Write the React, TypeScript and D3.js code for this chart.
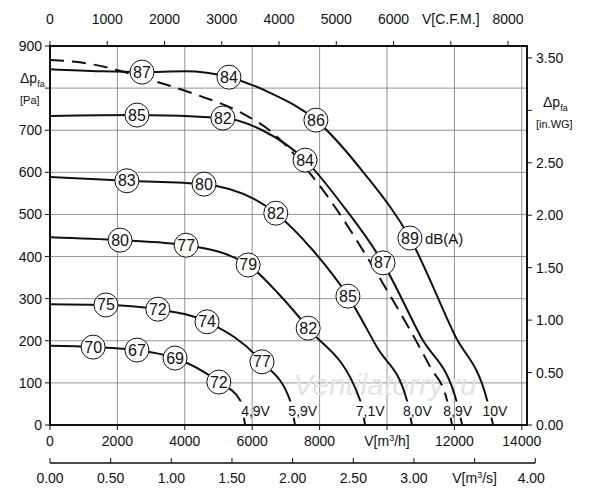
import * as d3 from 'd3';

// flow in m3/h, pressure in Pa
const curve49: [number, number][] = [[0, 188], [1280, 185], [2580, 178], [3710, 159], [5010, 102], [5640, 59], [5790, 0]];
const curve59: [number, number][] = [[0, 287], [1660, 285], [3200, 275], [4660, 245], [6290, 150], [7120, 59], [7270, 0]];
const curve71: [number, number][] = [[0, 446], [2080, 439], [4040, 427], [5880, 380], [6800, 310], [7660, 230], [9200, 59], [9350, 0]];
const curve80: [number, number][] = [[0, 589], [2280, 580], [4570, 572], [6700, 503], [7800, 415], [8840, 306], [9700, 185], [10590, 59], [10740, 0]];
const curve89: [number, number][] = [[0, 734], [2580, 736], [5130, 729], [6300, 700], [7570, 629], [8700, 520], [9880, 385], [11000, 210], [12080, 52], [12230, 0]];
const curve10: [number, number][] = [[0, 845], [1500, 840], [2730, 838], [4000, 840], [5310, 826], [6500, 790], [7890, 724], [9300, 600], [10680, 444], [12000, 215], [12970, 59], [13150, 0]];
const dashed: [number, number][] = [[0, 867], [980, 860], [3175, 815], [4360, 784], [5640, 743], [6620, 693], [7800, 589], [10000, 320], [11280, 138], [11780, 59], [11930, 0]];
const solidCurves = [curve49, curve59, curve71, curve80, curve89, curve10];

const voltLabels: [number, string][] = [[6100, '4,9V'], [7500, '5,9V'], [9500, '7,1V'], [10900, '8,0V'], [12100, '8,9V'], [13200, '10V']];

// [flow, pressure, dB]
const dbLabels: [number, number, string][] = [
  [1280, 185, '70'], [2580, 178, '67'], [3710, 159, '69'], [5010, 102, '72'],
  [1660, 285, '75'], [3200, 275, '72'], [4660, 245, '74'], [6290, 150, '77'],
  [2080, 439, '80'], [4040, 427, '77'], [5880, 380, '79'], [7660, 230, '82'],
  [2280, 580, '83'], [4570, 572, '80'], [6700, 503, '82'], [8840, 306, '85'],
  [2580, 736, '85'], [5130, 729, '82'], [7570, 629, '84'], [9880, 385, '87'],
  [2730, 838, '87'], [5310, 826, '84'], [7890, 724, '86'], [10680, 444, '89'],
];

const flowTicks = [0, 2000, 4000, 6000, 8000, 10000, 12000, 14000];
const paTicks = [0, 100, 200, 300, 400, 500, 600, 700, 800, 900];
const cfmTicks = [0, 1000, 2000, 3000, 4000, 5000, 6000, 7000, 8000];
const inwgTicks = [0, 0.5, 1, 1.5, 2, 2.5, 3, 3.5];
const m3sTicks = [0, 0.5, 1, 1.5, 2, 2.5, 3, 3.5, 4];

const font = 'Liberation Sans, Arial, sans-serif';

export default function App() {
  const L = 50, R = 527, T = 46, B = 425;
  const x = d3.scaleLinear().domain([0, 14000]).range([L, L + 14000 * 0.0337]);
  const y = d3.scaleLinear().domain([0, 900]).range([B, B - 900 * 0.4211]);
  const xCfm = (v: number) => x(v * 1.699);
  const yIn = (v: number) => y(v * 249.09);
  const xM3s = (v: number) => x(v * 3600);
  const line = d3.line<[number, number]>().x((d) => x(d[0])).y((d) => y(d[1])).curve(d3.curveMonotoneX);
  const bottom2 = 463;

  return (
    <svg width={600} height={500} style={{ position: 'absolute', left: 0, top: 0 }} fontFamily={font}>
      <rect width={600} height={500} fill='white' />
      <defs>
        <clipPath id='gap'>
          <rect x={L} y={T} width={R - L} height={y(56) - T} />
          <rect x={L} y={y(17)} width={R - L} height={B - y(17)} />
        </clipPath>
      </defs>
      {/* grid */}
      {flowTicks.slice(1).map((t) => (
        <line key={'vx' + t} x1={x(t)} x2={x(t)} y1={T} y2={B} stroke='#777' strokeWidth={0.8} />
      ))}
      {paTicks.slice(1).map((t) => (
        <line key={'hy' + t} x1={L} x2={R} y1={y(t)} y2={y(t)} stroke='#777' strokeWidth={0.8} />
      ))}
      <text x={385} y={395} fontSize={30} fontStyle='italic' fill='#e4e4e4' textAnchor='middle'>Ventilatorry.ru</text>
      {/* frame */}
      <rect x={L} y={T} width={R - L} height={B - T} fill='none' stroke='#111' strokeWidth={2} />

      {/* curves */}
      <g clipPath='url(#gap)' fill='none' stroke='#111' strokeWidth={2}>
        {solidCurves.map((c, i) => <path key={i} d={line(c) ?? ''} />)}
        <path d={line(dashed) ?? ''} strokeDasharray='14 8' />
      </g>
      {voltLabels.map(([v, s]) => (
        <text key={s} x={x(v)} y={y(17) - 2} fontSize={14} textAnchor='middle' fill='#111'>{s}</text>
      ))}
      {dbLabels.map(([f, p, s], i) => (
        <g key={i}>
          <circle cx={x(f)} cy={y(p)} r={12} fill='white' stroke='#111' strokeWidth={1} />
          <text x={x(f)} y={y(p) + 5.5} fontSize={16} textAnchor='middle' fill='#111'>{s}</text>
        </g>
      ))}
      <text x={x(10680) + 15} y={y(444) + 5.5} fontSize={15} fill='#111'>dB(A)</text>

      {/* left axis */}
      {paTicks.map((t) => (
        <g key={'ly' + t}>
          <line x1={L - 5} x2={L} y1={y(t)} y2={y(t)} stroke='#111' />
          {t !== 800 && <text x={L - 8} y={y(t) + 5} fontSize={14} textAnchor='end' fill='#111'>{t}</text>}
        </g>
      ))}
      <text x={20} y={83} fontSize={14} fill='#111'>Δp<tspan fontSize={9} dy={4}>fa</tspan></text>
      <text x={20} y={104} fontSize={11} fill='#111'>[Pa]</text>

      {/* right axis */}
      {inwgTicks.map((t) => (
        <g key={'ry' + t}>
          <line x1={R} x2={R + 5} y1={yIn(t)} y2={yIn(t)} stroke='#111' />
          {t !== 3 && <text x={R + 9} y={yIn(t) + 5} fontSize={14} fill='#111'>{t.toFixed(2)}</text>}
        </g>
      ))}
      <text x={543} y={107} fontSize={14} fill='#111'>Δp<tspan fontSize={9} dy={4}>fa</tspan></text>
      <text x={536} y={128} fontSize={11} fill='#111'>[in.WG]</text>

      {/* top axis CFM */}
      {cfmTicks.filter((t) => xCfm(t) <= R).map((t) => (
        <g key={'tc' + t}>
          <line x1={xCfm(t)} x2={xCfm(t)} y1={T - 5} y2={T} stroke='#111' />
          <text x={xCfm(t)} y={T - 22} fontSize={14} textAnchor='middle' fill='#111'>
            {t === 7000 ? 'V[C.F.M.]' : t}
          </text>
        </g>
      ))}

      {/* bottom axis m3/h */}
      {flowTicks.map((t) => (
        <g key={'bf' + t}>
          <line x1={x(t)} x2={x(t)} y1={B} y2={B + 5} stroke='#111' />
          <text x={x(t)} y={B + 21} fontSize={14} textAnchor='middle' fill='#111'>
            {t === 10000 ? <>V[m<tspan fontSize={9} dy={-5}>3</tspan><tspan dy={5}>/h]</tspan></> : t}
          </text>
        </g>
      ))}

      {/* second bottom axis m3/s */}
      <line x1={L} x2={xM3s(4)} y1={bottom2} y2={bottom2} stroke='#111' strokeWidth={1.5} />
      {m3sTicks.map((t) => (
        <g key={'bs' + t}>
          <line x1={xM3s(t)} x2={xM3s(t)} y1={bottom2 - 5} y2={bottom2} stroke='#111' />
          <text x={xM3s(t) - (t === 4 ? 4 : 0)} y={bottom2 + 20} fontSize={14} textAnchor='middle' fill='#111'>
            {t === 3.5 ? <>V[m<tspan fontSize={9} dy={-5}>3</tspan><tspan dy={5}>/s]</tspan></> : t.toFixed(2)}
          </text>
        </g>
      ))}
    </svg>
  );
}
